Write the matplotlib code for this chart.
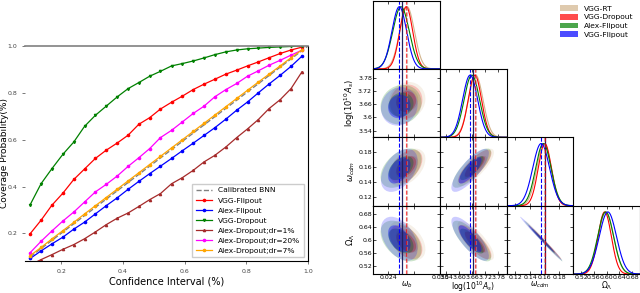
import matplotlib

matplotlib.use("Agg")
import matplotlib.pyplot as plt
import numpy as np
from matplotlib.patches import Ellipse, Patch

# ---- coverage curves (left panel) ----
ci = [0.100, 0.135, 0.170, 0.206, 0.241, 0.276, 0.311, 0.346, 0.382, 0.417, 0.452, 0.487, 0.522,
      0.558, 0.593, 0.628, 0.663, 0.698, 0.734, 0.769, 0.804, 0.839, 0.874, 0.910, 0.945, 0.980]
calib_x = [0.1, 1.0]
calib_y = [0.1, 1.0]
vgg_flipout = [0.199, 0.256, 0.320, 0.372, 0.430, 0.475, 0.520, 0.555, 0.586, 0.619, 0.666, 0.694, 0.731,
               0.760, 0.786, 0.814, 0.837, 0.858, 0.880, 0.897, 0.915, 0.932, 0.950, 0.968, 0.983, 0.995]
alex_flipout = [0.093, 0.125, 0.155, 0.184, 0.218, 0.248, 0.283, 0.318, 0.352, 0.388, 0.422, 0.455, 0.487,
                0.520, 0.553, 0.585, 0.618, 0.651, 0.688, 0.726, 0.761, 0.800, 0.838, 0.875, 0.913, 0.956]
vgg_dropout = [0.323, 0.412, 0.476, 0.538, 0.590, 0.657, 0.704, 0.743, 0.783, 0.818, 0.844, 0.871, 0.892,
               0.915, 0.925, 0.936, 0.949, 0.963, 0.975, 0.983, 0.988, 0.991, 0.994, 0.996, 0.998, 1.000]
alex_dr1 = [0.065, 0.088, 0.109, 0.132, 0.152, 0.177, 0.206, 0.237, 0.265, 0.287, 0.315, 0.344, 0.370,
            0.412, 0.438, 0.469, 0.505, 0.533, 0.569, 0.609, 0.646, 0.686, 0.733, 0.771, 0.818, 0.889]
alex_dr20 = [0.118, 0.166, 0.210, 0.253, 0.291, 0.334, 0.377, 0.409, 0.445, 0.486, 0.523, 0.562, 0.609,
             0.640, 0.676, 0.712, 0.743, 0.783, 0.814, 0.840, 0.871, 0.894, 0.918, 0.939, 0.961, 0.982]
alex_dr7 = [0.105, 0.140, 0.176, 0.212, 0.247, 0.283, 0.318, 0.353, 0.389, 0.424, 0.459, 0.494, 0.529,
            0.565, 0.600, 0.635, 0.670, 0.705, 0.741, 0.776, 0.811, 0.846, 0.880, 0.915, 0.950, 0.983]

# ---- corner plot (right panel) ----
models = ["VGG-RT", "VGG-Dropout", "Alex-Flipout", "VGG-Flipout"]
model_colors = ["tan", "red", "green", "blue"]
param_labels = [r"$\omega_b$", r"$\log(10^{10}A_s)$", r"$\omega_{cdm}$", r"$\Omega_\Lambda$"]
mu_rt = [0.0262, 3.676, 0.159, 0.598]
mu_dropout = [0.0261, 3.672, 0.160, 0.594]
mu_alex = [0.0255, 3.658, 0.158, 0.597]
mu_vggflip = [0.0253, 3.650, 0.155, 0.604]
sig_rt = [0.00085, 0.034, 0.0100, 0.024]
sig_dropout = [0.00075, 0.031, 0.0090, 0.021]
sig_alex = [0.00095, 0.036, 0.0105, 0.025]
sig_vggflip = [0.00085, 0.035, 0.0115, 0.027]
corr = [[1.00, 0.10, 0.45, -0.44],
        [0.10, 1.00, 0.80, -0.79],
        [0.45, 0.80, 1.00, -0.995],
        [-0.44, -0.79, -0.995, 1.00]]
truth = [0.0256, 3.663, 0.1600]
lims = [(0.0223, 0.0300), (3.51, 3.82), (0.108, 0.199), (0.496, 0.705)]
ticks = [[0.024, 0.027, 0.030], [3.54, 3.60, 3.66, 3.72, 3.78], [0.12, 0.14, 0.16, 0.18],
         [0.52, 0.56, 0.60, 0.64, 0.68]]
xtick_labels = [["0.024", "", "0.030"], ["3.54", "3.60", "3.66", "3.72", "3.78"],
                ["0.12", "0.14", "0.16", "0.18"], ["0.52", "0.56", "0.60", "0.64", "0.68"]]
ytick_labels = [["0.024", "", "0.030"], ["3.54", "3.6", "3.66", "3.72", "3.78"],
                ["0.12", "0.14", "0.16", "0.18"], ["0.52", "0.56", "0.6", "0.64", "0.68"]]

W, H = 640, 293
fig = plt.figure(figsize=(6.4, 2.93), dpi=100)

# left: coverage
ax = fig.add_axes([25 / W, 1 - 261 / H, 283 / W, 215 / H])
ax.plot(calib_x, calib_y, "--", color="gray", lw=1, label="Calibrated BNN")
series = [
    (vgg_flipout, "red", "o", "VGG-Flipout"),
    (alex_flipout, "blue", "o", "Alex-Flipout"),
    (vgg_dropout, "green", "v", "VGG-Dropout"),
    (alex_dr1, "brown", "^", "Alex-Dropout;dr=1%"),
    (alex_dr20, "magenta", "o", "Alex-Dropout;dr=20%"),
    (alex_dr7, "orange", "o", "Alex-Dropout;dr=7%"),
]
for ys, c, m, lab in series:
    ax.plot(ci, ys, color=c, marker=m, ms=1.6, lw=0.9, label=lab)
ax.set_xlim(0.083, 1.0)
ax.set_ylim(0.082, 1.0)
ax.set_xticks([0.2, 0.4, 0.6, 0.8, 1.0])
ax.set_yticks([0.2, 0.4, 0.6, 0.8, 1.0])
ax.tick_params(labelsize=4.5, length=2, width=0.5, colors="#444444")
ax.spines["left"].set_visible(False)
ax.spines["top"].set_color("gray")
ax.spines["top"].set_linewidth(1.2)
ax.set_xlabel("Confidence Interval (%)", fontsize=7, labelpad=2)
ax.set_ylabel("Coverage Probability(%)", fontsize=6.5)
ax.yaxis.set_label_coords(-0.058, 0.5)
ax.legend(loc="lower right", fontsize=5.4, handlelength=2.2, labelspacing=0.5,
          borderpad=0.5, framealpha=1, fancybox=False, edgecolor="#cccccc")

# right: corner
mus = [mu_rt, mu_dropout, mu_alex, mu_vggflip]
sigs = [sig_rt, sig_dropout, sig_alex, sig_vggflip]
x0, cw = 373.3, 66.7
y0, rh = 0.5, 68.4
for i in range(4):
    for j in range(i + 1):
        a = fig.add_axes([(x0 + j * cw) / W, 1 - (y0 + (i + 1) * rh) / H, cw / W, rh / H])
        if i == j:
            xs = np.linspace(lims[j][0], lims[j][1], 300)
            for mu, sg, c in zip(mus, sigs, model_colors):
                a.plot(xs, np.exp(-0.5 * ((xs - mu[j]) / sg[j]) ** 2), color=c, lw=0.8)
            a.set_ylim(0, 1.1)
            a.set_yticks([])
        else:
            for mu, sg, c in zip(mus, sigs, model_colors):
                cov = np.array([[sg[j] ** 2, corr[j][i] * sg[j] * sg[i]],
                                [corr[j][i] * sg[j] * sg[i], sg[i] ** 2]])
                vals, vecs = np.linalg.eigh(cov)
                ang = np.degrees(np.arctan2(vecs[1, 1], vecs[0, 1]))
                for k, al in [(2.49, 0.2), (1.52, 0.38)]:
                    a.add_patch(Ellipse((mu[j], mu[i]), 2 * k * np.sqrt(vals[1]),
                                        2 * k * np.sqrt(vals[0]), angle=ang,
                                        facecolor=c, edgecolor="none", alpha=al))
            a.set_ylim(*lims[i])
            a.set_yticks(ticks[i])
            if j == 0:
                a.set_yticklabels(ytick_labels[i])
                a.set_ylabel(param_labels[i], fontsize=6, labelpad=1)
            else:
                a.set_yticklabels([])
        if j < 3:
            a.axvline(mus[3][j], color="blue", ls="--", lw=0.8)
            a.axvline(truth[j], color="#202060", ls="-", lw=0.9)
            a.axvline(mus[1][j], color="red", ls="--", lw=0.8, alpha=0.7)
            a.axvline(mus[0][j], color="#c08080", ls="--", lw=0.8, alpha=0.6)
        a.set_xlim(*lims[j])
        a.set_xticks(ticks[j])
        if i == 3:
            a.set_xticklabels(xtick_labels[j])
            a.set_xlabel(param_labels[j], fontsize=5.5, labelpad=-0.5)
        else:
            a.set_xticklabels([])
        a.tick_params(direction="in", length=2, width=0.5, labelsize=4.5, pad=1.0,
                      top=True, right=True)
        for s in a.spines.values():
            s.set_linewidth(0.8)

handles = [Patch(facecolor=c, alpha=0.7, label=m) for m, c in zip(models, model_colors)]
fig.legend(handles=handles, loc="upper right", bbox_to_anchor=(1.0, 1.005), fontsize=5.4,
           frameon=False, handlelength=2.4, handleheight=0.8, labelspacing=0.3)

fig.savefig("out.png", dpi=100)
